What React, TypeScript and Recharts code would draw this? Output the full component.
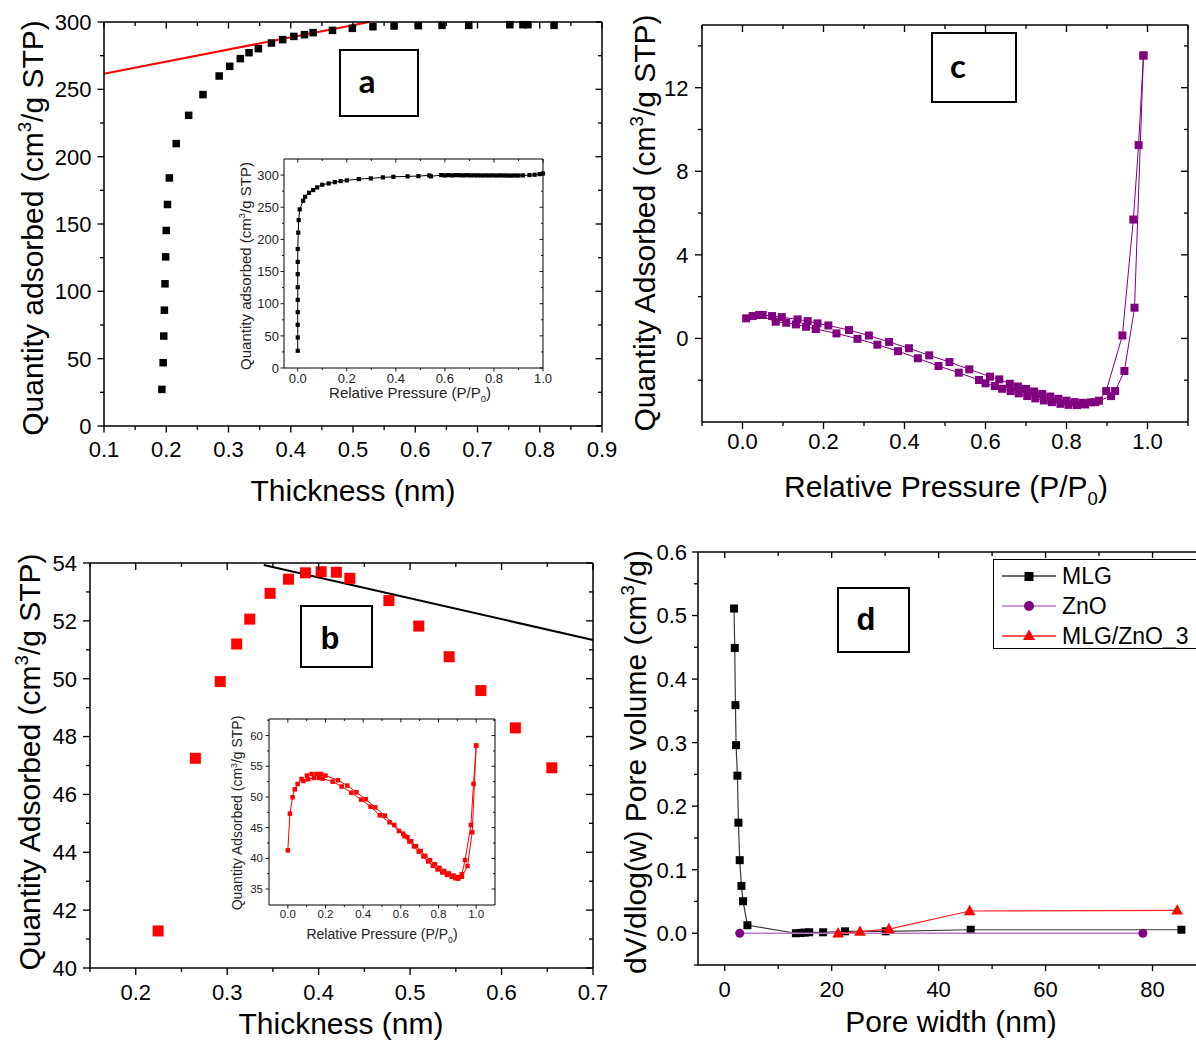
import React from 'react';
import { ScatterChart, Scatter, XAxis, YAxis, ReferenceLine, Legend } from 'recharts';

const FONT = '"Liberation Sans", Arial, Helvetica, sans-serif';

// ---------------- Panel a : t-plot (main) ----------------
const aPoints: [number, number][] = [
  [0.193, 27.2], [0.195, 47.0], [0.196, 66.8], [0.197, 86.0], [0.198, 105.6], [0.199, 125.6],
  [0.2, 145.2], [0.202, 164.5], [0.205, 184.2], [0.216, 209.7], [0.236, 230.7], [0.259, 246.1],
  [0.285, 259.9], [0.302, 267.1], [0.319, 272.8], [0.333, 277.2], [0.348, 280.2], [0.369, 284.4],
  [0.387, 286.9], [0.405, 289.3], [0.422, 290.6], [0.436, 292.1], [0.467, 293.8], [0.499, 295.3],
  [0.532, 296.5], [0.566, 297.0], [0.605, 297.3], [0.643, 297.5], [0.686, 297.5], [0.752, 298],
  [0.773, 298], [0.781, 298], [0.823, 297.5],
];
const aTangent: [number, number][] = [[0.1, 261.5], [0.526, 300]];
const aXTicks = [0.1, 0.15, 0.2, 0.25, 0.3, 0.35, 0.4, 0.45, 0.5, 0.55, 0.6, 0.65, 0.7, 0.75, 0.8, 0.85, 0.9];
const aXLabels = [0.1, 0.2, 0.3, 0.4, 0.5, 0.6, 0.7, 0.8, 0.9];
const aYTicks = [0, 25, 50, 75, 100, 125, 150, 175, 200, 225, 250, 275, 300];
const aYLabels = [0, 50, 100, 150, 200, 250, 300];

// ---------------- Panel a : inset isotherm ----------------
const insetAPoints: [number, number][] = [
  [0, 26.8], [0, 47.5], [0, 67.2], [0, 86.9], [0, 106], [0, 125.7], [0, 145.9], [0, 165], [0, 185],
  [0.002, 210.5], [0.004, 230], [0.008, 246.7], [0.022, 260], [0.03, 266.3], [0.046, 272.5],
  [0.063, 276.7], [0.079, 280.9], [0.1, 285], [0.126, 287], [0.151, 289], [0.175, 290.6],
  [0.2, 291.7], [0.249, 293.8], [0.298, 294.8], [0.347, 296.4], [0.39, 297.3], [0.448, 298],
  [0.492, 298.4], [0.536, 299.5], [0.543, 298], [0.585, 300], [0.6, 299.5], [0.615, 300],
  [0.63, 299.5], [0.645, 300], [0.66, 299.8], [0.675, 299.5], [0.69, 299.8], [0.705, 299.5],
  [0.72, 299.6], [0.735, 299.5], [0.75, 299.4], [0.765, 299.5], [0.78, 299.4], [0.795, 299.5],
  [0.81, 299.3], [0.825, 299.5], [0.84, 299.4], [0.855, 299.3], [0.87, 299.2], [0.885, 299.4],
  [0.9, 299.3], [0.918, 299.5], [0.945, 300], [0.966, 300.5], [0.986, 301.5], [1.0, 302.5],
];
const iaXTicks = [0, 0.1, 0.2, 0.3, 0.4, 0.5, 0.6, 0.7, 0.8, 0.9, 1.0];
const iaXLabels = [0, 0.2, 0.4, 0.6, 0.8, 1.0];
const iaYTicks = [0, 25, 50, 75, 100, 125, 150, 175, 200, 225, 250, 275, 300];
const iaYLabels = [0, 50, 100, 150, 200, 250, 300];

// ---------------- Panel b : t-plot (main) ----------------
const bPoints: [number, number][] = [
  [0.2245, 41.28], [0.2652, 47.25], [0.2924, 49.9], [0.3104, 51.2], [0.3247, 52.06], [0.3469, 52.95],
  [0.367, 53.44], [0.3855, 53.66], [0.4027, 53.7], [0.4194, 53.68], [0.4341, 53.47], [0.4768, 52.7],
  [0.5095, 51.82], [0.5427, 50.76], [0.5774, 49.59], [0.6151, 48.3], [0.655, 46.92],
];
const bTangent: [number, number][] = [[0.34, 53.93], [0.7, 51.34]];
const bXTicks = [0.15, 0.2, 0.25, 0.3, 0.35, 0.4, 0.45, 0.5, 0.55, 0.6, 0.65, 0.7];
const bXLabels = [0.2, 0.3, 0.4, 0.5, 0.6, 0.7];
const bYTicks = [40, 41, 42, 43, 44, 45, 46, 47, 48, 49, 50, 51, 52, 53, 54];
const bYLabels = [40, 42, 44, 46, 48, 50, 52, 54];

// ---------------- Panel b : inset isotherm ----------------
const ibAdsorption: [number, number][] = [
  [0, 41.3], [0.011, 47.28], [0.025, 49.95], [0.037, 51.25], [0.052, 52.12], [0.073, 52.93],
  [0.083, 52.6], [0.108, 52.88], [0.139, 53.1], [0.165, 53.1], [0.185, 52.99], [0.238, 52.5],
  [0.286, 51.7], [0.337, 50.7], [0.389, 49.57], [0.439, 48.42], [0.488, 47.01], [0.54, 45.87],
  [0.59, 44.46], [0.62, 43.6], [0.645, 42.75], [0.67, 41.95], [0.695, 41.1], [0.72, 40.3],
  [0.745, 39.5], [0.77, 38.8], [0.795, 38.2], [0.82, 37.7], [0.845, 37.3], [0.87, 37.0],
  [0.89, 36.75], [0.905, 36.7], [0.924, 37.0], [0.954, 38.75], [0.979, 44.24], [1.0, 58.37],
];
const ibDesorption: [number, number][] = [
  [1.0, 58.37], [0.986, 52.12], [0.972, 45.43], [0.941, 39.73], [0.924, 37.4], [0.905, 36.95],
  [0.88, 37.2], [0.855, 37.55], [0.83, 37.95], [0.805, 38.45], [0.78, 39.05], [0.755, 39.7],
  [0.73, 40.4], [0.705, 41.2], [0.68, 42.0], [0.655, 42.8], [0.635, 43.45], [0.613, 44.02],
  [0.565, 45.43], [0.515, 46.96], [0.464, 48.31], [0.414, 49.62], [0.364, 50.76], [0.316, 51.85],
  [0.266, 52.72], [0.2, 53.48], [0.176, 53.75], [0.153, 53.75], [0.126, 53.75], [0.101, 53.48],
];
const ibXTicks = [0, 0.1, 0.2, 0.3, 0.4, 0.5, 0.6, 0.7, 0.8, 0.9, 1.0];
const ibXLabels = [0, 0.2, 0.4, 0.6, 0.8, 1.0];
const ibYTicks = [35, 37.5, 40, 42.5, 45, 47.5, 50, 52.5, 55, 57.5, 60, 62.5];
const ibYLabels = [35, 40, 45, 50, 55, 60];

// ---------------- Panel c : ZnO isotherm ----------------
const cAdsorption: [number, number][] = [
  [0.009, 0.96], [0.025, 1.07], [0.041, 1.12], [0.082, 0.8], [0.108, 0.75], [0.132, 0.67],
  [0.157, 0.56], [0.181, 0.45], [0.232, 0.24], [0.284, -0.02], [0.333, -0.3], [0.384, -0.61],
  [0.433, -0.95], [0.484, -1.32], [0.534, -1.64], [0.584, -1.99], [0.6, -2.15], [0.623, -2.28],
  [0.641, -2.41], [0.662, -2.52], [0.682, -2.63], [0.703, -2.76], [0.723, -2.87], [0.744, -2.97],
  [0.764, -3.05], [0.785, -3.13], [0.805, -3.18], [0.826, -3.19], [0.846, -3.16], [0.871, -3.05],
  [0.91, -2.76], [0.92, -2.52], [0.943, -1.56], [0.968, 1.47], [0.99, 13.54],
];
const cDesorption: [number, number][] = [
  [0.99, 13.54], [0.978, 9.25], [0.965, 5.69], [0.938, 0.14], [0.898, -2.52], [0.88, -2.98],
  [0.86, -3.06], [0.84, -3.08], [0.82, -3.05], [0.8, -2.98], [0.78, -2.89], [0.76, -2.78],
  [0.74, -2.66], [0.72, -2.54], [0.7, -2.42], [0.68, -2.3], [0.66, -2.17], [0.634, -1.96],
  [0.611, -1.83], [0.56, -1.48], [0.511, -1.13], [0.461, -0.81], [0.411, -0.47], [0.362, -0.17],
  [0.312, 0.14], [0.263, 0.4], [0.212, 0.62], [0.185, 0.72], [0.161, 0.83], [0.136, 0.91],
  [0.097, 1.02], [0.073, 1.07], [0.05, 1.12],
];
const cXTicks = [-0.1, 0, 0.1, 0.2, 0.3, 0.4, 0.5, 0.6, 0.7, 0.8, 0.9, 1.0, 1.1];
const cXLabels = [0, 0.2, 0.4, 0.6, 0.8, 1.0];
const cYTicks = [-2, 0, 2, 4, 6, 8, 10, 12, 14];
const cYLabels = [0, 4, 8, 12];

// ---------------- Panel d : pore size distribution ----------------
const dSeriesNames = ['MLG', 'ZnO', 'MLG/ZnO_3'];
const dMLG: [number, number][] = [
  [1.74, 0.511], [1.87, 0.449], [2.0, 0.359], [2.12, 0.296], [2.37, 0.248], [2.56, 0.174],
  [2.8, 0.115], [3.12, 0.0745], [3.43, 0.0504], [4.24, 0.0126], [13.3, 0.0], [14.2, 0.0005],
  [14.95, 0.001], [15.8, 0.0015], [18.4, 0.0015], [22.5, 0.003], [30.1, 0.003], [46, 0.0055],
  [85.4, 0.0055],
];
const dZnO: [number, number][] = [[2.8, 0], [78.2, 0]];
const dMLGZnO3: [number, number][] = [[21.2, 0], [25.3, 0.0025], [30.7, 0.0066], [45.8, 0.035], [84.6, 0.036]];
const dXTicks = [0, 10, 20, 30, 40, 50, 60, 70, 80, 90];
const dXLabels = [0, 20, 40, 60, 80];
const dYTicks = [-0.05, 0, 0.05, 0.1, 0.15, 0.2, 0.25, 0.3, 0.35, 0.4, 0.45, 0.5, 0.55, 0.6];
const dYLabels = [0, 0.1, 0.2, 0.3, 0.4, 0.5, 0.6];

// ---------------- helpers ----------------
const toData = (pts: [number, number][]) => pts.map(([x, y]) => ({ x, y }));
const f1 = (v: number) => v.toFixed(1);
const f0 = (v: number) => String(Math.round(v));

type AxisSpec = { domain: [number, number]; ticks: number[]; majors: number[]; fmt: (v: number) => string };
type Style = { font: number; major: number; minor: number; xGap: number; yGap: number; stroke: number; color: string };
type Rect = { l: number; t: number; r: number; b: number };

function tickRenderer(side: 'bottom' | 'top' | 'left' | 'right', spec: AxisSpec, st: Style) {
  return (props: any) => {
    const x = Number(props.x);
    const y = Number(props.y);
    const v = Number(props.payload && props.payload.value);
    const major = spec.majors.some((m) => Math.abs(m - v) < 1e-6);
    const len = major ? st.major : st.minor;
    let line: React.ReactNode = null;
    let label: React.ReactNode = null;
    const textProps = { fontSize: st.font, fontFamily: FONT, fill: st.color, stroke: 'none' };
    const sw = st.stroke * 0.9;
    if (side === 'bottom') {
      line = <line x1={x} y1={y} x2={x} y2={y + len} stroke="#000" strokeWidth={sw} />;
      if (major)
        label = (
          <text x={x} y={y + st.major + st.xGap + st.font * 0.72} textAnchor="middle" {...textProps}>
            {spec.fmt(v)}
          </text>
        );
    } else if (side === 'top') {
      line = <line x1={x} y1={y} x2={x} y2={y + len} stroke="#000" strokeWidth={sw} />;
    } else if (side === 'left') {
      line = <line x1={x} y1={y} x2={x - len} y2={y} stroke="#000" strokeWidth={sw} />;
      if (major)
        label = (
          <text x={x - st.major - st.yGap} y={y + st.font * 0.36} textAnchor="end" {...textProps}>
            {spec.fmt(v)}
          </text>
        );
    } else {
      line = <line x1={x} y1={y} x2={x - len} y2={y} stroke="#000" strokeWidth={sw} />;
    }
    return (
      <g>
        {line}
        {label}
      </g>
    );
  };
}

// Axes are given a size of 1px (an axis of size 0 is not drawn); the margins absorb that pixel.
function Panel(props: { plot: Rect; pad: Rect; xs: AxisSpec; ys: AxisSpec; st: Style; children?: React.ReactNode }) {
  const { plot, pad, xs, ys, st } = props;
  const w = plot.r - plot.l + pad.l + pad.r;
  const h = plot.b - plot.t + pad.t + pad.b;
  const axisLine = { stroke: '#000', strokeWidth: st.stroke };
  return (
    <div style={{ position: 'absolute', left: plot.l - pad.l, top: plot.t - pad.t, width: w, height: h }}>
      <ScatterChart width={w} height={h} margin={{ top: pad.t - 1, right: pad.r - 1, bottom: pad.b - 1, left: pad.l - 1 }}>
        <XAxis xAxisId="b" type="number" dataKey="x" orientation="bottom" height={1} domain={xs.domain}
          ticks={xs.ticks} interval={0} tickSize={0} tickMargin={0} tickLine={false} axisLine={axisLine}
          tick={tickRenderer('bottom', xs, st)} />
        <XAxis xAxisId="t" type="number" dataKey="x" orientation="top" height={1} domain={xs.domain}
          allowDataOverflow ticks={xs.ticks} interval={0} tickSize={0} tickMargin={0} tickLine={false}
          axisLine={axisLine} tick={tickRenderer('top', xs, st)} />
        <YAxis yAxisId="l" type="number" dataKey="y" orientation="left" width={1} domain={ys.domain}
          ticks={ys.ticks} interval={0} tickSize={0} tickMargin={0} tickLine={false} axisLine={axisLine}
          tick={tickRenderer('left', ys, st)} />
        <YAxis yAxisId="r" type="number" dataKey="y" orientation="right" width={1} domain={ys.domain}
          allowDataOverflow ticks={ys.ticks} interval={0} tickSize={0} tickMargin={0} tickLine={false}
          axisLine={axisLine} tick={tickRenderer('right', ys, st)} />
        {props.children}
      </ScatterChart>
    </div>
  );
}

const sq = (s: number, fill: string) => (p: any) => (
  <rect x={p.cx - s / 2} y={p.cy - s / 2} width={s} height={s} fill={fill} />
);
const circ = (r: number, fill: string) => (p: any) => <circle cx={p.cx} cy={p.cy} r={r} fill={fill} />;
const tri = (s: number, fill: string) => (p: any) => (
  <polygon
    points={`${p.cx},${p.cy - s * 0.62} ${p.cx - s * 0.58},${p.cy + s * 0.42} ${p.cx + s * 0.58},${p.cy + s * 0.42}`}
    fill={fill}
  />
);

function Title(props: { x: number; y: number; size: number; rotate?: boolean; color?: string; children: React.ReactNode }) {
  return (
    <div
      style={{
        position: 'absolute',
        left: props.x,
        top: props.y,
        transform: `translate(-50%, -50%)${props.rotate ? ' rotate(-90deg)' : ''}`,
        fontSize: props.size,
        fontFamily: FONT,
        lineHeight: 1,
        whiteSpace: 'nowrap',
        color: props.color || '#000',
      }}
    >
      {props.children}
    </div>
  );
}
const Sup = (p: { children: React.ReactNode }) => (
  <span style={{ fontSize: '0.62em', position: 'relative', top: '-0.62em' }}>{p.children}</span>
);
const Sub = (p: { children: React.ReactNode }) => (
  <span style={{ fontSize: '0.62em', position: 'relative', top: '0.42em' }}>{p.children}</span>
);

function LetterBox(props: { l: number; t: number; w: number; h: number; cx: number; cy: number; letter: string; font: string; size: number }) {
  return (
    <>
      <div style={{ position: 'absolute', left: props.l, top: props.t, width: props.w, height: props.h, border: '2px solid #000', boxSizing: 'border-box' }} />
      <div style={{ position: 'absolute', left: props.cx, top: props.cy, transform: 'translate(-50%, -50%)', fontFamily: props.font, fontWeight: 700, fontSize: props.size, lineHeight: 1 }}>
        {props.letter}
      </div>
    </>
  );
}

const dLegendStyles = [
  { line: '#3a3a3a', marker: 'square', color: '#000' },
  { line: '#b57cc9', marker: 'circle', color: '#800080' },
  { line: '#ff2020', marker: 'triangle', color: '#ff0000' },
];

function DLegend() {
  return (
    <div style={{ position: 'relative', width: 230, height: 90, border: '1px solid #000', boxSizing: 'border-box', background: '#fff', fontFamily: FONT }}>
      {dSeriesNames.map((name, i) => {
        const s = dLegendStyles[i];
        return (
          <div key={name} style={{ position: 'absolute', left: 0, top: 16 + i * 30 - 13, height: 26, display: 'flex', alignItems: 'center' }}>
            <svg width={68} height={26} style={{ display: 'block' }}>
              <line x1={8} y1={13} x2={62} y2={13} stroke={s.line} strokeWidth={1.3} />
              {s.marker === 'square' && <rect x={30.5} y={9} width={9} height={9} fill={s.color} />}
              {s.marker === 'circle' && <circle cx={35} cy={13} r={5} fill={s.color} />}
              {s.marker === 'triangle' && <polygon points="35,6.5 29,17 41,17" fill={s.color} />}
            </svg>
            <span style={{ fontSize: 23, lineHeight: 1, color: '#000' }}>{name}</span>
          </div>
        );
      })}
    </div>
  );
}

// ---------------- styles ----------------
const mainA: Style = { font: 22, major: 6.5, minor: 4, xGap: 9, yGap: 6, stroke: 1.5, color: '#000' };
const mainB: Style = { font: 22, major: 7, minor: 4, xGap: 9, yGap: 6, stroke: 1.5, color: '#000' };
const mainC: Style = { font: 22, major: 7, minor: 4, xGap: 4.5, yGap: 6.5, stroke: 1.5, color: '#000' };
const mainD: Style = { font: 22, major: 6, minor: 4, xGap: 10, yGap: 5, stroke: 1.5, color: '#000' };
const insA: Style = { font: 13, major: 3.5, minor: 2, xGap: 2, yGap: 1.5, stroke: 1, color: '#222' };
const insB: Style = { font: 11.5, major: 3.5, minor: 2, xGap: 1.5, yGap: 2.5, stroke: 1, color: '#222' };
const TITLE = 30;

export default function App() {
  return (
    <div style={{ position: 'absolute', left: 0, top: 0, width: 1196, height: 1040, overflow: 'hidden', background: '#fff', fontFamily: FONT }}>
      {/* Panel a */}
      <Panel plot={{ l: 104, t: 22, r: 602, b: 426 }} pad={{ l: 60, t: 12, r: 22, b: 40 }}
        xs={{ domain: [0.1, 0.9], ticks: aXTicks, majors: aXLabels, fmt: f1 }}
        ys={{ domain: [0, 300], ticks: aYTicks, majors: aYLabels, fmt: f0 }} st={mainA}>
        <ReferenceLine xAxisId="b" yAxisId="l" segment={[{ x: aTangent[0][0], y: aTangent[0][1] }, { x: aTangent[1][0], y: aTangent[1][1] }]}
          stroke="#ff0000" strokeWidth={2} ifOverflow="visible" />
        <Scatter xAxisId="b" yAxisId="l" data={toData(aPoints)} shape={sq(7.5, '#000')} isAnimationActive={false} />
      </Panel>
      <Panel plot={{ l: 284, t: 159, r: 543, b: 368 }} pad={{ l: 32, t: 6, r: 14, b: 24 }}
        xs={{ domain: [-0.056, 1.0], ticks: iaXTicks, majors: iaXLabels, fmt: f1 }}
        ys={{ domain: [0, 325], ticks: iaYTicks, majors: iaYLabels, fmt: f0 }} st={insA}>
        <Scatter xAxisId="b" yAxisId="l" data={toData(insetAPoints)} shape={sq(4.2, '#000')}
          line={{ stroke: '#000', strokeWidth: 1 }} lineType="joint" isAnimationActive={false} />
      </Panel>

      {/* Panel b */}
      <Panel plot={{ l: 90, t: 563, r: 593, b: 968 }} pad={{ l: 55, t: 12, r: 22, b: 40 }}
        xs={{ domain: [0.15, 0.7], ticks: bXTicks, majors: bXLabels, fmt: f1 }}
        ys={{ domain: [40, 54], ticks: bYTicks, majors: bYLabels, fmt: f0 }} st={mainB}>
        <ReferenceLine xAxisId="b" yAxisId="l" segment={[{ x: bTangent[0][0], y: bTangent[0][1] }, { x: bTangent[1][0], y: bTangent[1][1] }]}
          stroke="#000" strokeWidth={2} ifOverflow="visible" />
        <Scatter xAxisId="b" yAxisId="l" data={toData(bPoints)} shape={sq(11, '#ff0000')} isAnimationActive={false} />
      </Panel>
      <Panel plot={{ l: 269, t: 719, r: 495, b: 905 }} pad={{ l: 28, t: 6, r: 12, b: 20 }}
        xs={{ domain: [-0.1, 1.1], ticks: ibXTicks, majors: ibXLabels, fmt: f1 }}
        ys={{ domain: [32.4, 62.7], ticks: ibYTicks, majors: ibYLabels, fmt: f0 }} st={insB}>
        <Scatter xAxisId="b" yAxisId="l" data={toData(ibAdsorption)} shape={sq(4.5, '#ff0000')}
          line={{ stroke: '#ff0000', strokeWidth: 1 }} lineType="joint" isAnimationActive={false} />
        <Scatter xAxisId="b" yAxisId="l" data={toData(ibDesorption)} shape={sq(4.5, '#ff0000')}
          line={{ stroke: '#ff0000', strokeWidth: 1 }} lineType="joint" isAnimationActive={false} />
      </Panel>

      {/* Panel c */}
      <Panel plot={{ l: 702, t: 25, r: 1188, b: 422 }} pad={{ l: 52, t: 12, r: 8, b: 40 }}
        xs={{ domain: [-0.1, 1.1], ticks: cXTicks, majors: cXLabels, fmt: f1 }}
        ys={{ domain: [-4, 15], ticks: cYTicks, majors: cYLabels, fmt: f0 }} st={mainC}>
        <Scatter xAxisId="b" yAxisId="l" data={toData(cAdsorption)} shape={sq(8, '#800080')}
          line={{ stroke: '#800080', strokeWidth: 1 }} lineType="joint" isAnimationActive={false} />
        <Scatter xAxisId="b" yAxisId="l" data={toData(cDesorption)} shape={sq(8, '#800080')}
          line={{ stroke: '#800080', strokeWidth: 1 }} lineType="joint" isAnimationActive={false} />
      </Panel>

      {/* Panel d */}
      <Panel plot={{ l: 698, t: 552, r: 1206, b: 965 }} pad={{ l: 60, t: 12, r: 1, b: 40 }}
        xs={{ domain: [-5, 90], ticks: dXTicks, majors: dXLabels, fmt: f0 }}
        ys={{ domain: [-0.05, 0.6], ticks: dYTicks, majors: dYLabels, fmt: f1 }} st={mainD}>
        <Scatter name={dSeriesNames[0]} xAxisId="b" yAxisId="l" data={toData(dMLG)} shape={sq(8, '#000')}
          line={{ stroke: dLegendStyles[0].line, strokeWidth: 1.2 }} lineType="joint" isAnimationActive={false} />
        <Scatter name={dSeriesNames[1]} xAxisId="b" yAxisId="l" data={toData(dZnO)} shape={circ(4.5, '#800080')}
          line={{ stroke: dLegendStyles[1].line, strokeWidth: 1.5 }} lineType="joint" isAnimationActive={false} />
        <Scatter name={dSeriesNames[2]} xAxisId="b" yAxisId="l" data={toData(dMLGZnO3)} shape={tri(10, '#ff0000')}
          line={{ stroke: dLegendStyles[2].line, strokeWidth: 1.2 }} lineType="joint" isAnimationActive={false} />
        <Legend layout="vertical" align="center" verticalAlign="middle" content={() => <DLegend />}
          wrapperStyle={{ left: 993 - 638, top: 559 - 540, width: 230, height: 90 }} />
      </Panel>

      {/* Axis titles */}
      <Title x={33} y={228} size={TITLE} rotate>Quantity adsorbed (cm<Sup>3</Sup>/g STP)</Title>
      <Title x={353} y={491} size={TITLE}>Thickness (nm)</Title>
      <Title x={246} y={266} size={15} rotate color="#222">Quantity adsorbed (cm<Sup>3</Sup>/g STP)</Title>
      <Title x={410} y={393} size={15} color="#222">Relative Pressure (P/P<Sub>0</Sub>)</Title>

      <Title x={30} y={762} size={TITLE} rotate>Quantity Adsorbed (cm<Sup>3</Sup>/g STP)</Title>
      <Title x={341} y={1024} size={TITLE}>Thickness (nm)</Title>
      <Title x={237} y={813} size={14} rotate color="#222">Quantity Adsorbed (cm<Sup>3</Sup>/g STP)</Title>
      <Title x={382} y={934} size={14} color="#222">Relative Pressure (P/P<Sub>0</Sub>)</Title>

      <Title x={645} y={223} size={TITLE} rotate>Quantity Adsorbed (cm<Sup>3</Sup>/g STP)</Title>
      <Title x={946} y={487} size={TITLE}>Relative Pressure (P/P<Sub>0</Sub>)</Title>

      <Title x={636} y={762} size={TITLE} rotate>dV/dlog(w) Pore volume (cm<Sup>3</Sup>/g)</Title>
      <Title x={951} y={1022} size={TITLE}>Pore width (nm)</Title>

      {/* Panel letter boxes */}
      <LetterBox l={339} t={49} w={80} h={68} cx={367} cy={80} letter="a" font='Lato, "Open Sans", sans-serif' size={33} />
      <LetterBox l={931} t={32} w={86} h={71} cx={958} cy={65} letter="c" font='Lato, "Open Sans", sans-serif' size={33} />
      <LetterBox l={300} t={605} w={73} h={63} cx={330} cy={638} letter="b" font={FONT} size={31} />
      <LetterBox l={837} t={587} w={73} h={66} cx={866} cy={619} letter="d" font={FONT} size={31} />
    </div>
  );
}
